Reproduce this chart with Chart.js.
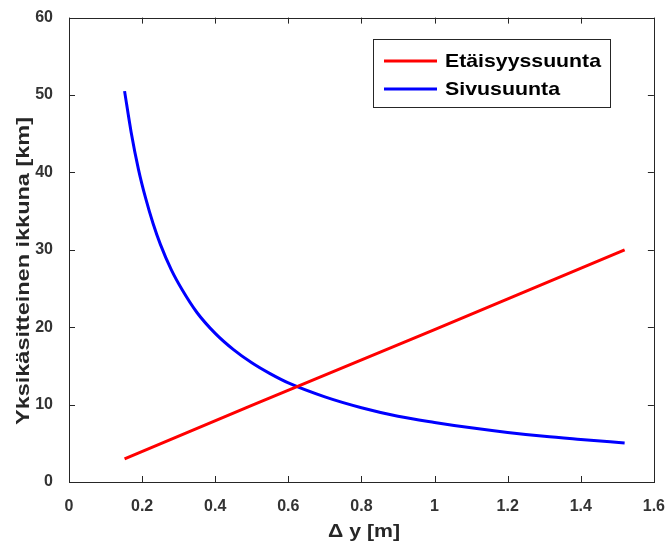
<!DOCTYPE html>
<html>
<head>
<meta charset="utf-8">
<script src="https://cdn.jsdelivr.net/npm/chart.js@4/dist/chart.umd.min.js"></script>
<style>
html,body{margin:0;padding:0;background:#fff;}
#wrap{width:672px;height:542px;position:relative;}
</style>
</head>
<body>
<div id="wrap"><canvas id="c" width="672" height="542"></canvas></div>
<script>
// Data
const seriesNames = ['Etäisyyssuunta', 'Sivusuunta'];
const xTitle = '\u0394 y [m]';
const yTitle = 'Yksikäsitteinen ikkuna [km]';
const xTicks = [0, 0.2, 0.4, 0.6, 0.8, 1, 1.2, 1.4, 1.6];
const yTicks = [0, 10, 20, 30, 40, 50, 60];

const redX = [0.152, 0.5, 1.0, 1.52];
const redY = [3.0, 9.9, 19.7, 30.0];

const blueX = [0.152, 0.17, 0.19, 0.21, 0.23, 0.25, 0.28, 0.31, 0.35, 0.40, 0.45, 0.50, 0.55, 0.60, 0.70, 0.80, 0.90, 1.00, 1.10, 1.20, 1.30, 1.40, 1.52];
const blueY = [50.5, 45.2, 40.4, 36.6, 33.4, 30.7, 27.4, 24.8, 21.9, 19.2, 17.1, 15.4, 14.0, 12.8, 11.0, 9.6, 8.5, 7.7, 7.0, 6.4, 5.9, 5.5, 5.05];

const toPts = (xs, ys) => xs.map((x, i) => ({x: x, y: ys[i]}));
const FONT = '"Liberation Sans", Arial, Helvetica, sans-serif';

// draw text stretched horizontally to a target width
function fitText(ctx, text, x, y, width, align) {
  const w = ctx.measureText(text).width;
  const s = width / w;
  ctx.save();
  ctx.translate(x, y);
  ctx.scale(s, 1);
  ctx.textAlign = align;
  ctx.fillText(text, 0, 0);
  ctx.restore();
}

const boxPlugin = {
  id: 'matlabBox',
  afterDraw(chart) {
    const ctx = chart.ctx;
    const a = chart.chartArea;
    const xs = chart.scales.x, ys = chart.scales.y;
    ctx.save();
    ctx.strokeStyle = '#262626';
    ctx.lineWidth = 1;
    ctx.strokeRect(Math.round(a.left) + 0.5, Math.round(a.top) + 0.5, Math.round(a.right - a.left), Math.round(a.bottom - a.top));
    // inner ticks
    const tl = 6;
    xTicks.forEach(v => {
      const px = Math.round(xs.getPixelForValue(v)) + 0.5;
      ctx.beginPath();
      ctx.moveTo(px, a.bottom); ctx.lineTo(px, a.bottom - tl);
      ctx.moveTo(px, a.top); ctx.lineTo(px, a.top + tl);
      ctx.stroke();
    });
    yTicks.forEach(v => {
      const py = Math.round(ys.getPixelForValue(v)) + 0.5;
      ctx.beginPath();
      ctx.moveTo(a.left, py); ctx.lineTo(a.left + tl, py);
      ctx.moveTo(a.right, py); ctx.lineTo(a.right - tl, py);
      ctx.stroke();
    });
    // axis titles
    ctx.fillStyle = '#262626';
    ctx.font = 'bold 19px ' + FONT;
    ctx.textBaseline = 'middle';
    fitText(ctx, xTitle, 364, 532, 72, 'center');
    ctx.save();
    ctx.translate(24, 271);
    ctx.rotate(-Math.PI / 2);
    fitText(ctx, yTitle, 0, 0, 308, 'center');
    ctx.restore();
    // legend
    const lx = 373.5, ly = 39.5, lw = 237, lh = 68;
    ctx.fillStyle = '#ffffff';
    ctx.fillRect(lx, ly, lw, lh);
    ctx.strokeStyle = '#262626';
    ctx.lineWidth = 1;
    ctx.strokeRect(lx, ly, lw, lh);
    const rows = [61, 89];
    const widths = [156, 115];
    chart.data.datasets.forEach((ds, i) => {
      ctx.strokeStyle = ds.borderColor;
      ctx.lineWidth = 3;
      ctx.beginPath();
      ctx.moveTo(384, rows[i]); ctx.lineTo(437, rows[i]);
      ctx.stroke();
      ctx.fillStyle = '#000000';
      ctx.font = 'bold 19px ' + FONT;
      ctx.textBaseline = 'middle';
      fitText(ctx, ds.label, 445, rows[i] + 1, widths[i], 'left');
    });
    ctx.restore();
  }
};

new Chart(document.getElementById('c'), {
  type: 'scatter',
  data: {
    datasets: [
      {label: seriesNames[0], data: toPts(redX, redY), showLine: true, borderColor: '#ff0000', backgroundColor: '#ff0000', borderWidth: 3, pointRadius: 0, tension: 0},
      {label: seriesNames[1], data: toPts(blueX, blueY), showLine: true, borderColor: '#0000ff', backgroundColor: '#0000ff', borderWidth: 3, pointRadius: 0, cubicInterpolationMode: 'monotone'}
    ]
  },
  plugins: [boxPlugin],
  options: {
    responsive: false,
    animation: false,
    devicePixelRatio: 1,
    layout: {padding: {left: 0, right: 12, top: 15, bottom: 0}},
    plugins: {legend: {display: false}, tooltip: {enabled: false}},
    scales: {
      x: {
        type: 'linear', min: 0, max: 1.6,
        afterBuildTicks: s => { s.ticks = xTicks.map(v => ({value: v})); },
        afterFit: s => { s.height = 60; },
        grid: {display: false},
        border: {display: false},
        ticks: {
          padding: 7,
          color: '#333333',
          font: {family: FONT, size: 16, weight: 'bold'},
          maxRotation: 0,
          callback: v => String(v)
        }
      },
      y: {
        type: 'linear', min: 0, max: 60,
        afterBuildTicks: s => { s.ticks = yTicks.map(v => ({value: v})); },
        afterFit: s => { s.width = 69; },
        grid: {display: false},
        border: {display: false},
        ticks: {
          padding: 8,
          color: '#333333',
          font: {family: FONT, size: 16, weight: 'bold'},
          callback: v => String(v)
        }
      }
    }
  }
});
</script>
</body>
</html>
